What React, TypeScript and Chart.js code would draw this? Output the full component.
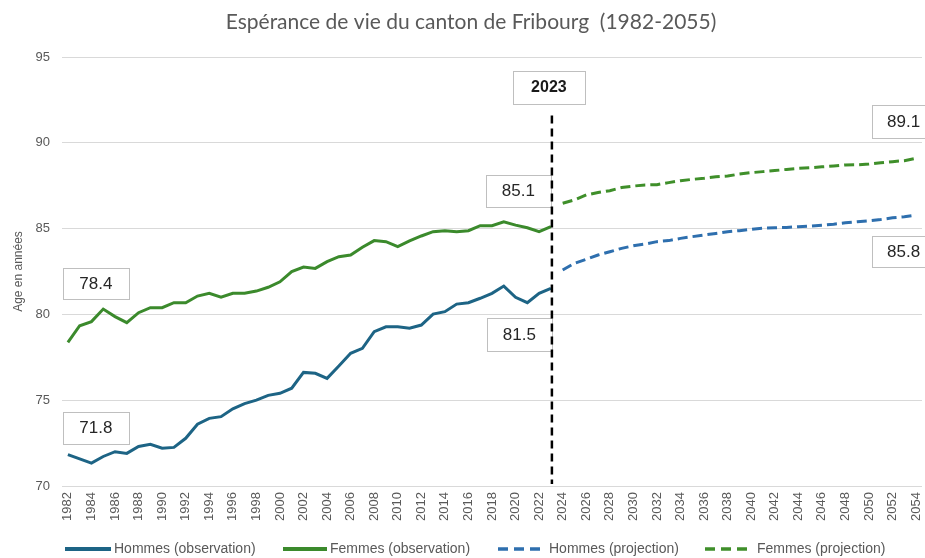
import React, { useEffect, useRef } from "react";
import { Chart, registerables } from "chart.js";

Chart.register(...registerables);

const YEARS = [
  "1982", "1983", "1984", "1985", "1986", "1987", "1988", "1989", "1990", "1991",
  "1992", "1993", "1994", "1995", "1996", "1997", "1998", "1999", "2000", "2001",
  "2002", "2003", "2004", "2005", "2006", "2007", "2008", "2009", "2010", "2011",
  "2012", "2013", "2014", "2015", "2016", "2017", "2018", "2019", "2020", "2021",
  "2022", "2023", "2024", "2025", "2026", "2027", "2028", "2029", "2030", "2031",
  "2032", "2033", "2034", "2035", "2036", "2037", "2038", "2039", "2040", "2041",
  "2042", "2043", "2044", "2045", "2046", "2047", "2048", "2049", "2050", "2051",
  "2052", "2053", "2054",
];

// 1982-2023
const HOMMES_OBS = [
  71.83, 71.58, 71.33, 71.72, 72.0, 71.9, 72.3, 72.43, 72.2, 72.25,
  72.78, 73.6, 73.94, 74.04, 74.5, 74.8, 75.0, 75.28, 75.4, 75.7,
  76.62, 76.57, 76.27, 76.99, 77.73, 78.02, 78.99, 79.28, 79.28, 79.19,
  79.38, 80.02, 80.16, 80.6, 80.68, 80.94, 81.23, 81.65, 81.0, 80.68,
  81.23, 81.52,
];
const FEMMES_OBS = [
  78.37, 79.34, 79.58, 80.31, 79.87, 79.52, 80.1, 80.39, 80.39, 80.68,
  80.68, 81.07, 81.23, 81.0, 81.23, 81.23, 81.36, 81.58, 81.9, 82.49,
  82.76, 82.68, 83.07, 83.36, 83.46, 83.91, 84.3, 84.24, 83.95, 84.28,
  84.57, 84.82, 84.88, 84.82, 84.88, 85.17, 85.17, 85.4, 85.2, 85.05,
  84.82, 85.11,
];
// 2024-2054
const HOMMES_PROJ = [
  82.59, 82.98, 83.21, 83.46, 83.65, 83.85, 84.0, 84.1, 84.24, 84.3,
  84.43, 84.53, 84.63, 84.72, 84.82, 84.88, 84.96, 85.02, 85.05, 85.07,
  85.11, 85.15, 85.2, 85.26, 85.34, 85.4, 85.46, 85.53, 85.63, 85.69,
  85.78,
];
const FEMMES_PROJ = [
  86.48, 86.67, 86.96, 87.1, 87.21, 87.39, 87.48, 87.54, 87.56, 87.68,
  87.79, 87.87, 87.93, 88.02, 88.06, 88.18, 88.26, 88.32, 88.38, 88.45,
  88.51, 88.55, 88.6, 88.65, 88.71, 88.72, 88.76, 88.84, 88.9, 88.96,
  89.1,
];

const Y_MIN = 70;
const Y_MAX = 95;
const Y_STEP = 5;
const MARKER_YEAR = "2023";

const TITLE = "Espérance de vie du canton de Fribourg  (1982-2055)";
const Y_TITLE = "Age en années";
const SERIES_NAMES = [
  "Hommes (observation)",
  "Femmes (observation)",
  "Hommes (projection)",
  "Femmes (projection)",
];

const C_H_OBS = "#1d6485";
const C_F_OBS = "#3b8a2c";
const C_H_PROJ = "#2e6fae";
const C_F_PROJ = "#3f8f2a";
const GRAY = "#595959";

const nulls = (n: number) => Array.from({ length: n }, () => null as number | null);

export default function App() {
  const ref = useRef<HTMLCanvasElement | null>(null);

  useEffect(() => {
    document.body.style.margin = "0";
    const canvas = ref.current;
    if (!canvas) return;
    const nObs = HOMMES_OBS.length;
    const nProj = HOMMES_PROJ.length;

    const labelDefs = [
      { text: HOMMES_OBS[0].toFixed(1), idx: 0, value: HOMMES_OBS[0], dx: 28, dy: -27, w: 66, h: 32 },
      { text: FEMMES_OBS[0].toFixed(1), idx: 0, value: FEMMES_OBS[0], dx: 28, dy: -59, w: 66, h: 31 },
      { text: FEMMES_OBS[nObs - 1].toFixed(1), idx: nObs - 1, value: FEMMES_OBS[nObs - 1], dx: -32.5, dy: -36, w: 65, h: 32 },
      { text: HOMMES_OBS[nObs - 1].toFixed(1), idx: nObs - 1, value: HOMMES_OBS[nObs - 1], dx: -31.5, dy: 46, w: 65, h: 33 },
      { text: FEMMES_PROJ[nProj - 1].toFixed(1), idx: nObs + nProj - 1, value: FEMMES_PROJ[nProj - 1], dx: -12.5, dy: -37, w: 64, h: 33 },
      { text: HOMMES_PROJ[nProj - 1].toFixed(1), idx: nObs + nProj - 1, value: HOMMES_PROJ[nProj - 1], dx: -12.5, dy: 36, w: 64, h: 31 },
    ];

    const overlay = {
      id: "overlay",
      afterDraw(chart: any) {
        const ctx = chart.ctx as CanvasRenderingContext2D;
        const xs = chart.scales.x;
        const ys = chart.scales.y;
        const area = chart.chartArea;
        ctx.save();
        // title
        ctx.fillStyle = GRAY;
        ctx.font = "21px Lato, 'Open Sans', sans-serif";
        ctx.textAlign = "center";
        ctx.textBaseline = "middle";
        ctx.fillText(TITLE, 471, 22);

        // value boxes
        for (const l of labelDefs) {
          const cx = xs.getPixelForValue(l.idx) + l.dx;
          const cy = ys.getPixelForValue(l.value) + l.dy;
          ctx.fillStyle = "#ffffff";
          ctx.fillRect(cx - l.w / 2, cy - l.h / 2, l.w, l.h);
          ctx.strokeStyle = "#bfbfbf";
          ctx.lineWidth = 1;
          ctx.strokeRect(Math.round(cx - l.w / 2) + 0.5, Math.round(cy - l.h / 2) + 0.5, l.w, l.h);
          ctx.fillStyle = "#262626";
          ctx.font = "17px 'Liberation Sans', Arial, sans-serif";
          ctx.fillText(l.text, cx, cy + 1);
        }

        // 2023 marker
        const mi = YEARS.indexOf(MARKER_YEAR);
        const mx = xs.getPixelForValue(mi);
        const bx = mx - 2;
        const by = ys.getPixelForValue(Y_MAX) + 30;
        const bw = 72;
        const bh = 33;
        ctx.fillStyle = "#ffffff";
        ctx.fillRect(bx - bw / 2, by - bh / 2, bw, bh);
        ctx.strokeStyle = "#bfbfbf";
        ctx.lineWidth = 1;
        ctx.strokeRect(Math.round(bx - bw / 2) + 0.5, Math.round(by - bh / 2) + 0.5, bw, bh);
        ctx.fillStyle = "#1a1a1a";
        ctx.font = "bold 16px 'Liberation Sans', Arial, sans-serif";
        ctx.fillText(MARKER_YEAR, bx, by + 1);

        ctx.beginPath();
        ctx.setLineDash([8, 5]);
        ctx.strokeStyle = "#000000";
        ctx.lineWidth = 2.5;
        ctx.moveTo(mx + 1, by + bh / 2 + 12);
        ctx.lineTo(mx + 1, area.bottom - 2);
        ctx.stroke();
        ctx.setLineDash([]);

        // legend
        const items = [
          { x: 65, len: 46, gap: 3, color: C_H_OBS, dash: [] as number[], lw: 4 },
          { x: 283, len: 44, gap: 3, color: C_F_OBS, dash: [] as number[], lw: 4 },
          { x: 498, len: 42, gap: 9, color: C_H_PROJ, dash: [10, 6], lw: 3.5 },
          { x: 705, len: 44, gap: 8, color: C_F_PROJ, dash: [10, 6], lw: 3.5 },
        ];
        const ly = 549;
        items.forEach((it, i) => {
          ctx.beginPath();
          ctx.setLineDash(it.dash);
          ctx.strokeStyle = it.color;
          ctx.lineWidth = it.lw;
          ctx.moveTo(it.x, ly);
          ctx.lineTo(it.x + it.len, ly);
          ctx.stroke();
          ctx.setLineDash([]);
          ctx.fillStyle = GRAY;
          ctx.font = "14px 'Liberation Sans', Arial, sans-serif";
          ctx.textAlign = "left";
          ctx.fillText(SERIES_NAMES[i], it.x + it.len + it.gap, ly);
        });
        ctx.restore();
      },
    };

    const chart = new Chart(canvas, {
      type: "line",
      data: {
        labels: YEARS,
        datasets: [
          {
            label: SERIES_NAMES[0],
            data: [...HOMMES_OBS, ...nulls(nProj)],
            borderColor: C_H_OBS,
            borderWidth: 3,
            pointRadius: 0,
            tension: 0,
          },
          {
            label: SERIES_NAMES[1],
            data: [...FEMMES_OBS, ...nulls(nProj)],
            borderColor: C_F_OBS,
            borderWidth: 3,
            pointRadius: 0,
            tension: 0,
          },
          {
            label: SERIES_NAMES[2],
            data: [...nulls(nObs), ...HOMMES_PROJ],
            borderColor: C_H_PROJ,
            borderWidth: 3,
            borderDash: [10, 5],
            pointRadius: 0,
            tension: 0,
          },
          {
            label: SERIES_NAMES[3],
            data: [...nulls(nObs), ...FEMMES_PROJ],
            borderColor: C_F_PROJ,
            borderWidth: 3,
            borderDash: [10, 5],
            pointRadius: 0,
            tension: 0,
          },
        ],
      },
      options: {
        responsive: false,
        animation: false,
        layout: { padding: { top: 57, left: 0, right: 3, bottom: 28 } },
        plugins: {
          legend: { display: false },
          title: { display: false },
          tooltip: { enabled: false },
        },
        scales: {
          x: {
            offset: true,
            grid: { display: false, drawTicks: false },
            border: { display: false },
            afterFit: (s: any) => {
              s.height = 44;
              s.paddingLeft = 0;
              s.paddingRight = 0;
            },
            ticks: {
              autoSkip: false,
              maxRotation: 90,
              minRotation: 90,
              padding: 6,
              color: GRAY,
              font: { size: 13, family: "'Liberation Sans', Arial, sans-serif" },
              callback: (_v: any, i: number) => (i % 2 === 0 ? YEARS[i] : ""),
            },
          },
          y: {
            min: Y_MIN,
            max: Y_MAX,
            grid: { color: "#d9d9d9", lineWidth: 1, drawTicks: false },
            border: { display: false },
            afterFit: (s: any) => {
              s.width = 62;
            },
            ticks: {
              stepSize: Y_STEP,
              padding: 12,
              color: GRAY,
              font: { size: 13, family: "'Liberation Sans', Arial, sans-serif" },
            },
            title: {
              display: true,
              text: Y_TITLE,
              color: GRAY,
              font: { size: 12, family: "'Liberation Sans', Arial, sans-serif" },
              padding: { top: 11, bottom: 0 },
            },
          },
        },
      },
      plugins: [overlay],
    });
    return () => chart.destroy();
  }, []);

  return (
    <div style={{ width: 925, height: 558 }}>
      <canvas ref={ref} width={925} height={558} />
    </div>
  );
}
